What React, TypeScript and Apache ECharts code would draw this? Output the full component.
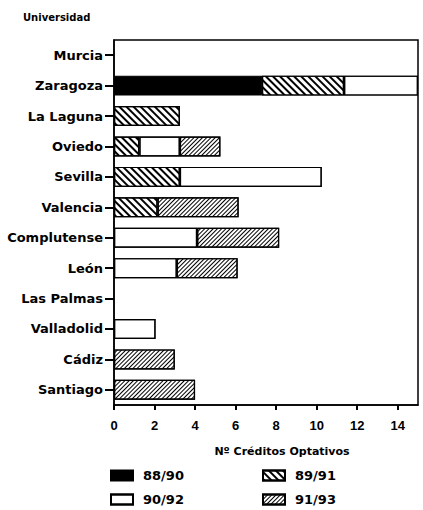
import React, { useEffect, useRef } from "react";
import * as echarts from "echarts";

const categories = ["Murcia", "Zaragoza", "La Laguna", "Oviedo", "Sevilla", "Valencia", "Complutense", "León", "Las Palmas", "Valladolid", "Cádiz", "Santiago"];
const s8890 = [null, 7.3, null, null, null, null, null, null, null, null, null, null];
const s8991 = [null, 4.05, 3.25, 1.25, 3.25, 2.15, null, null, null, null, null, null];
const s9092 = [null, 3.65, null, 2, 7, null, 4.1, 3.1, null, 2.05, null, null];
const s9193 = [null, null, null, 2, null, 4, 4.05, 3, null, null, 3, 4];
const seriesNames = ["88/90", "89/91", "90/92", "91/93"];

const FONT = "DejaVu Sans";

export default function App() {
  const ref = useRef<HTMLDivElement>(null);
  useEffect(() => {
    if (!ref.current) return;
    const chart = echarts.init(ref.current, null, { renderer: "svg" });
    const border = { borderColor: "#000", borderWidth: 1.2 };
    const mk = (name: string, data: any[], itemStyle: any) => ({
      name,
      type: "bar",
      stack: "total",
      data,
      barWidth: 20,
      itemStyle: { ...border, ...itemStyle },
    });
    const legendPos: [string, number, number][] = [
      ["88/90", 110, 469],
      ["90/92", 110, 493],
      ["89/91", 262, 469],
      ["91/93", 262, 493],
    ];
    chart.setOption({
      animation: false,
      backgroundColor: "#fff",
      grid: { left: 114, right: 5, top: 40, bottom: 105, show: true, borderColor: "#000", borderWidth: 1.5, backgroundColor: "transparent" },
      xAxis: {
        type: "value",
        min: 0,
        max: 15,
        interval: 2,
        axisLine: { show: true, lineStyle: { color: "#000", width: 1.5 } },
        axisTick: { show: true, length: 5, lineStyle: { color: "#000", width: 2 } },
        axisLabel: { showMaxLabel: false, margin: 14, color: "#000", fontFamily: "Liberation Sans", fontWeight: "bold", fontSize: 13 },
        splitLine: { show: false },
      },
      yAxis: {
        type: "category",
        data: categories,
        inverse: true,
        axisLine: { show: true, lineStyle: { color: "#000", width: 1.5 } },
        axisTick: { show: true, inside: false, interval: 0, alignWithLabel: true, length: 9, lineStyle: { color: "#000", width: 2 } },
        axisLabel: { interval: 0, margin: 11, color: "#000", fontFamily: FONT, fontWeight: "bold", fontSize: 13 },
      },
      legend: legendPos.map(([name, left, top]) => ({
        left, top, padding: 0, data: [name],
        itemWidth: 22, itemHeight: 10, icon: "rect",
        textStyle: { fontFamily: FONT, fontWeight: "bold", fontSize: 13, color: "#000", padding: [0, 0, 0, 5] },
      })),
      graphic: [
        { type: "text", left: 23, top: 12, style: { text: "Universidad", fontFamily: FONT, fontWeight: "bold", fontSize: 10, fill: "#000" } },
        { type: "text", x: 282, y: 451, style: { text: "Nº Créditos Optativos", fontFamily: FONT, fontWeight: "bold", fontSize: 11, fill: "#000", align: "center", verticalAlign: "middle" } },
      ],
      series: [
        mk(seriesNames[0], s8890, { color: "#000" }),
        mk(seriesNames[1], s8991, {
          color: "#fff",
          decal: { symbol: "rect", dashArrayX: [1, 0], dashArrayY: [2, 2.5], rotation: Math.PI / 4, color: "#000" },
        }),
        mk(seriesNames[2], s9092, {
          color: "#fff",
          decal: { symbol: "circle", symbolSize: 1, dashArrayX: [1, 6], dashArrayY: [1, 5], color: "#aaa" },
        }),
        mk(seriesNames[3], s9193, {
          color: "#fff",
          decal: { symbol: "rect", dashArrayX: [1, 0], dashArrayY: [1, 1.4], rotation: -Math.PI / 4, color: "#000" },
        }),
      ],
    });
    return () => chart.dispose();
  }, []);
  return <div ref={ref} style={{ width: 423, height: 510, position: "absolute", left: 0, top: 0 }} />;
}
